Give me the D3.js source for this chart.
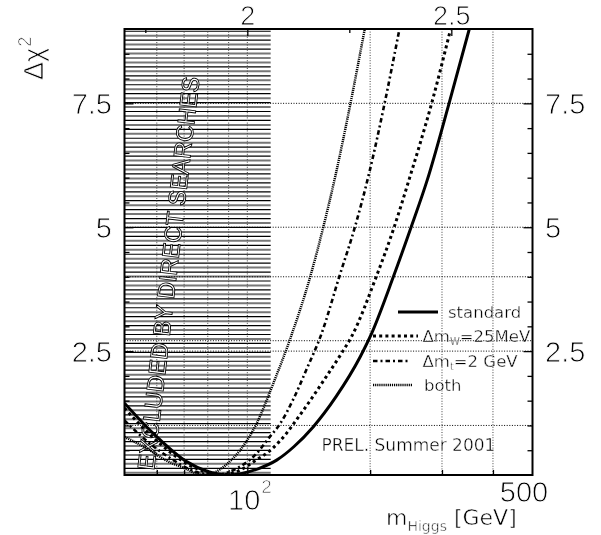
<!DOCTYPE html>
<html>
<head>
<meta charset="utf-8">
<script src="https://cdn.jsdelivr.net/npm/d3@7"></script>
<style>
  body { margin: 0; background: #fff; }
  svg { display: block; filter: grayscale(1); }
  /* thin the glyphs with a white outline painted over the fill */
  .thin { paint-order: fill stroke; stroke: #fff; stroke-linejoin: round; }
</style>
</head>
<body>
<svg id="chart" width="601" height="535"></svg>
<script>
// ---- Δχ² versus Higgs mass, one curve per fit variant ----
const standardMass = [50, 58.8, 71, 80, 89, 107, 118, 130, 145, 165, 189, 200, 228, 252, 276, 312, 350];
const standardChi2 = [1.45, 0.84, 0.27, 0.07, 0, 0.135, 0.3, 0.57, 0.97, 1.58, 2.38, 2.79, 4.0, 5.0, 5.95, 7.49, 9.0];

const dmwMass = [50, 58, 65, 72, 80, 86, 95, 105, 112, 120, 137, 156, 170, 180, 207, 229, 250, 283, 315];
const dmwChi2 = [1.35, 0.8, 0.45, 0.2, 0.05, 0, 0.08, 0.3, 0.45, 0.68, 1.3, 1.98, 2.45, 2.79, 4.0, 5.0, 6.0, 7.5, 9.0];

const dmtMass = [50, 58, 65, 72, 83, 95, 105, 113, 120, 130, 140, 152, 168, 183.5, 199, 217, 236];
const dmtChi2 = [1.1, 0.62, 0.33, 0.12, 0, 0.15, 0.42, 0.75, 1.02, 1.55, 2.15, 2.85, 4.0, 5.0, 6.1, 7.5, 9.0];

const bothMass = [50, 57.7, 63, 69.6, 78, 84, 90, 96, 105.4, 115.8, 127, 142.6, 153.5, 164, 179, 194];
const bothChi2 = [0.77, 0.5, 0.3, 0.15, 0, 0.07, 0.25, 0.5, 1.04, 1.85, 2.72, 4.0, 5.0, 6.0, 7.5, 9.0];

// Axis ranges, ticks and reference levels
const massDomain = [50, 500];
const chi2Domain = [0, 9];
const excludedBelow = 114.1;               // direct-search limit (GeV)
const yMajorTicks = [2.5, 5, 7.5];
const yMinorTicks = [0.5, 1, 1.5, 2, 3, 3.5, 4, 4.5, 5.5, 6, 6.5, 7, 8, 8.5];
const topMajorTicks = [2, 2.5];            // log10(m_H)
const topMinorTicks = [1.75, 2.25];
const bottomMajorTicks = [100];
const bottomMinorTicks = [60, 70, 80, 90, 200, 300, 400];
const gridMass = [60, 70, 80, 90, 100, 200, 300, 400];
const gridChi2 = [1, 2.5, 2.71, 4, 5, 7.5];
const legendLabels = [
  { main: "standard", sub: "", rest: "" },
  { main: "Δm", sub: "W", rest: "=25MeV" },
  { main: "Δm", sub: "t", rest: "=2 GeV" },
  { main: "both", sub: "", rest: "" }
];

// ---- layout ----
const plot = { left: 124.5, right: 532.5, top: 29, bottom: 475 };
const SANS = "'Liberation Sans', Arial, sans-serif";
const GEO = "'DejaVu Sans', sans-serif";

const svg = d3.select("#chart");
const x = d3.scaleLog().domain(massDomain).range([plot.left, plot.right]);
const xTop = d3.scaleLinear().domain(massDomain.map(Math.log10)).range([plot.left, plot.right]);
const y = d3.scaleLinear().domain(chi2Domain).range([plot.bottom, plot.top]);

svg.append("defs").append("clipPath").attr("id", "plotClip")
  .append("rect")
  .attr("x", plot.left).attr("y", plot.top)
  .attr("width", plot.right - plot.left).attr("height", plot.bottom - plot.top);

// ---- excluded region: horizontal hatching ----
const hatch = svg.append("g").attr("clip-path", "url(#plotClip)");
const hatchLevels = d3.range(0.045, chi2Domain[1], 0.09);
hatch.selectAll("line")
  .data(hatchLevels)
  .join("line")
  .attr("x1", x(massDomain[0])).attr("x2", x(excludedBelow))
  .attr("y1", d => y(d)).attr("y2", d => y(d))
  .attr("stroke", (d, i) => i % 2 ? "#000" : "#777")
  .attr("stroke-width", (d, i) => i % 2 ? 1.2 : 2);

// ---- grid ----
const grid = svg.append("g");
grid.selectAll(".gv").data(gridMass).join("line")
  .attr("class", "gv")
  .attr("x1", d => x(d)).attr("x2", d => x(d))
  .attr("y1", plot.top).attr("y2", plot.bottom)
  .attr("stroke", "#444").attr("stroke-width", 1)
  .attr("stroke-dasharray", "1,1.6");
grid.selectAll(".gh").data(gridChi2).join("line")
  .attr("class", "gh")
  .attr("x1", plot.left).attr("x2", plot.right)
  .attr("y1", d => y(d)).attr("y2", d => y(d))
  .attr("stroke", "#000").attr("stroke-width", 1)
  .attr("stroke-dasharray", "1,1.6");

// ---- "excluded" annotation, hollow lettering ----
svg.append("text")
  .attr("transform", "translate(154,471) rotate(-83.4)")
  .attr("font-family", SANS)
  .attr("font-size", 24)
  .attr("fill", "#fff")
  .attr("stroke", "#000")
  .attr("stroke-width", 0.9)
  .attr("textLength", 396)
  .attr("lengthAdjust", "spacingAndGlyphs")
  .text("EXCLUDED BY DIRECT SEARCHES");

// ---- curves ----
const series = [
  { mass: standardMass, chi2: standardChi2, width: 3, dash: null },
  { mass: dmwMass, chi2: dmwChi2, width: 3, dash: "3,3.2" },
  { mass: dmtMass, chi2: dmtChi2, width: 2.6, dash: "4.5,3,2,3" },
  { mass: bothMass, chi2: bothChi2, width: 2.5, dash: "1.2,0.9" }
];
const line = d3.line()
  .x(d => x(d[0]))
  .y(d => y(d[1]))
  .curve(d3.curveMonotoneX);

svg.append("g").attr("clip-path", "url(#plotClip)")
  .selectAll("path")
  .data(series)
  .join("path")
  .attr("d", s => line(d3.zip(s.mass, s.chi2)))
  .attr("fill", "none")
  .attr("stroke", "#000")
  .attr("stroke-width", s => s.width)
  .attr("stroke-dasharray", s => s.dash);

// ---- axes ----
function styleAxis(g, size) {
  g.select(".domain").remove();
  g.attr("font-family", SANS).attr("font-size", size || 29);
  g.selectAll(".tick line").attr("stroke", "#000").attr("stroke-width", 1.3);
  g.selectAll("text").attr("fill", "#000")
    .attr("class", "thin").attr("stroke-width", 0.9);
}
const fmt = d => String(d);

svg.append("g").attr("transform", `translate(${plot.left},0)`)
  .call(d3.axisLeft(y).tickValues(yMajorTicks).tickSize(-9).tickPadding(12.5).tickFormat(fmt))
  .call(styleAxis).selectAll("text").attr("dy", "0.36em");
svg.append("g").attr("transform", `translate(${plot.left},0)`)
  .call(d3.axisLeft(y).tickValues(yMinorTicks).tickSize(-5).tickFormat(""))
  .call(styleAxis);
svg.append("g").attr("transform", `translate(${plot.right},0)`)
  .call(d3.axisRight(y).tickValues(yMajorTicks).tickSize(-9).tickPadding(12.5).tickFormat(fmt))
  .call(styleAxis).selectAll("text").attr("dy", "0.36em");
svg.append("g").attr("transform", `translate(${plot.right},0)`)
  .call(d3.axisRight(y).tickValues(yMinorTicks).tickSize(-5).tickFormat(""))
  .call(styleAxis);

svg.append("g").attr("transform", `translate(0,${plot.top})`)
  .call(d3.axisTop(xTop).tickValues(topMajorTicks).tickSize(-7).tickPadding(4).tickFormat(fmt))
  .call(styleAxis, 27);
svg.append("g").attr("transform", `translate(0,${plot.top})`)
  .call(d3.axisTop(xTop).tickValues(topMinorTicks).tickSize(-4).tickFormat(""))
  .call(styleAxis);

svg.append("g").attr("transform", `translate(0,${plot.bottom})`)
  .call(d3.axisBottom(x).tickValues(bottomMajorTicks).tickSize(-8).tickFormat(""))
  .call(styleAxis);
svg.append("g").attr("transform", `translate(0,${plot.bottom})`)
  .call(d3.axisBottom(x).tickValues(bottomMinorTicks).tickSize(-5).tickFormat(""))
  .call(styleAxis);

// bottom labels: 10^2 and 500
const bottomLabels = svg.append("g")
  .attr("font-family", SANS).attr("class", "thin").attr("stroke-width", 0.9);
bottomLabels.append("text")
  .attr("x", x(100) + 13).attr("y", 510)
  .attr("text-anchor", "end").attr("font-size", 29)
  .text("10");
bottomLabels.append("text")
  .attr("x", x(100) + 14).attr("y", 493)
  .attr("font-size", 19)
  .text("2");
bottomLabels.append("text")
  .attr("x", x(500) - 8.5).attr("y", 502)
  .attr("text-anchor", "middle").attr("font-size", 29)
  .text("500");

// frame
svg.append("rect")
  .attr("x", plot.left).attr("y", plot.top)
  .attr("width", plot.right - plot.left).attr("height", plot.bottom - plot.top)
  .attr("fill", "none").attr("stroke", "#000").attr("stroke-width", 2);

// ---- axis titles ----
const xt = svg.append("text")
  .attr("x", 386).attr("y", 525)
  .attr("class", "thin").attr("stroke-width", 0.6)
  .attr("font-family", GEO).attr("font-size", 22);
xt.append("tspan").text("m");
xt.append("tspan").attr("font-size", 14).attr("dy", 6).text("Higgs");
xt.append("tspan").attr("dy", -6).attr("dx", 7).text("[GeV]");

const yt = svg.append("text")
  .attr("transform", "translate(43,80) rotate(-90)")
  .attr("class", "thin").attr("stroke-width", 0.8)
  .attr("font-family", SANS).attr("font-size", 27);
yt.append("tspan").text("Δχ");
yt.append("tspan").attr("font-size", 18).attr("dy", -12).attr("dx", 1).text("2");

// ---- legend ----
const legendRows = [
  { y: 318, x1: 398, x2: 438, textX: 448 },
  { y: 342, x1: 373, x2: 418, textX: 422.5 },
  { y: 367, x1: 373, x2: 410, textX: 422.5 },
  { y: 391, x1: 373, x2: 412, textX: 424 }
];
const legend = svg.append("g");
legendRows.forEach((row, i) => {
  const s = series[i];
  legend.append("line")
    .attr("x1", row.x1).attr("x2", row.x2)
    .attr("y1", row.y - 6).attr("y2", row.y - 6)
    .attr("stroke", "#000")
    .attr("stroke-width", s.width)
    .attr("stroke-dasharray", s.dash);
  const lab = legendLabels[i];
  const t = legend.append("text")
    .attr("x", row.textX).attr("y", row.y)
    .attr("class", "thin").attr("stroke-width", 0.4)
    .attr("font-family", GEO).attr("font-size", 16.5);
  t.append("tspan").text(lab.main);
  if (lab.sub) {
    t.append("tspan").attr("font-size", 10).attr("dy", 3).text(lab.sub);
    t.append("tspan").attr("dy", -3).text(lab.rest);
  }
});

svg.append("text")
  .attr("x", 321.5).attr("y", 451)
  .attr("class", "thin").attr("stroke-width", 0.4)
  .attr("font-family", GEO).attr("font-size", 17)
  .text("PREL. Summer 2001");
</script>
</body>
</html>
